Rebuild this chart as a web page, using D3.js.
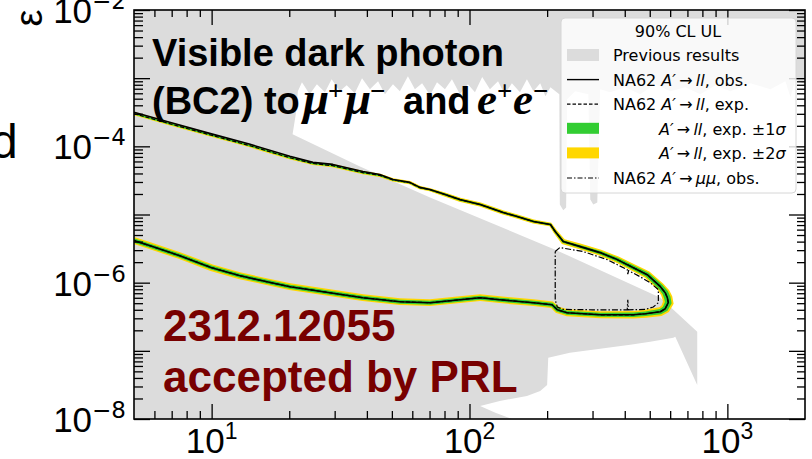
<!DOCTYPE html>
<html><head><meta charset="utf-8">
<script src="https://cdn.jsdelivr.net/npm/d3@7"></script>
<style>body{margin:0;background:#fff;} svg{display:block;}</style>
</head><body><svg id="c" width="812" height="459"></svg>
<script>
// ---------------- data ----------------
const xDomain = [5, 2000];          // A' mass [MeV]
const yDomain = [1e-8, 1e-2];       // epsilon
const xLabelTicks = [10, 100, 1000];
const yLabelTicks = [1e-8, 1e-6, 1e-4, 1e-2];

// Previous results (grey excluded region), closed polygon
const prevMass = [5,2000,2000,1836,1756,1679,1469,1228,1027,898,785,687,601,525,459,402,351,321,313,302,294,289,257,239,237,231,224,223,206,197,188,177,167,157,146,137,129,120,112,105,98.6,91.8,85.5,80.3,74.8,70.3,65.5,61.4,57.7,53.7,50.5,47.0,44.2,41.1,38.3,35.9,33.4,31.4,29.2,27.5,25.6,24.0,22.4,21.6,21.2,20.6,37.6,70.3,215,550,764,764,628,617,502,420,321,245,202,200,188,167,131,110,126,146,5];
const prevEps = [1e-2,1e-2,8.16e-4,9.66e-4,5.26e-4,9.03e-4,6.89e-4,8.43e-4,6.44e-4,7.88e-4,5.82e-4,7.38e-4,6.44e-4,8.16e-4,5.82e-4,7.38e-4,6.22e-4,6.89e-4,1.5e-5,1.4e-5,1.66e-5,5.82e-4,6.44e-4,4.91e-4,1.27e-5,1.15e-5,1.4e-5,5.82e-4,7.38e-4,5.43e-4,8.43e-4,6.44e-4,9.66e-4,6.22e-4,8.43e-4,5.82e-4,9.03e-4,6.89e-4,1.04e-3,6.22e-4,8.16e-4,5.82e-4,9.66e-4,6.89e-4,8.73e-4,5.62e-4,8.43e-4,6.89e-4,1.07e-3,6.44e-4,8.16e-4,5.82e-4,9.03e-4,6.89e-4,1.0e-3,6.01e-4,7.88e-4,6.44e-4,9.66e-4,6.22e-4,8.16e-4,5.82e-4,8.73e-4,6.44e-4,2.96e-4,1.5e-4,5.08e-5,1.78e-5,3.05e-6,6.02e-7,1.9e-7,3.16e-8,1.61e-7,1.55e-7,1.36e-7,1.23e-7,1.07e-7,9.35e-8,7.9e-8,3.16e-8,2.58e-8,2.18e-8,1.84e-8,1.55e-8,1.23e-8,1e-8,1e-8];

// NA62 A'->ll : upper branch (left -> tip)
const upperMass = [5.0,6.87,9.82,14.1,20.1,24.7,29.5,34.4,38.6,44.9,50.5,58.7,64.2,70.3,80.4,91.8,110,135,153,177,206,215,231,269,321,374,432,489,550,574,585];
const upperObs  = [3.16e-4,2.25e-4,1.55e-4,1.07e-4,7.13e-5,5.82e-5,5.43e-5,4.74e-5,4.28e-5,3.87e-5,3.27e-5,2.96e-5,2.50e-5,2.33e-5,1.97e-5,1.66e-5,1.40e-5,1.07e-5,9.35e-6,7.89e-6,7.13e-6,5.62e-6,4.01e-6,3.38e-6,2.76e-6,2.18e-6,1.66e-6,1.31e-6,8.73e-7,7.13e-7,6.02e-7];
const upperExp  = [3.02e-4,2.15e-4,1.48e-4,1.02e-4,6.8e-5,5.6e-5,5.2e-5,4.55e-5,4.12e-5,3.75e-5,3.22e-5,2.93e-5,2.48e-5,2.31e-5,1.96e-5,1.65e-5,1.40e-5,1.07e-5,9.35e-6,7.89e-6,7.13e-6,5.62e-6,4.01e-6,3.38e-6,2.76e-6,2.18e-6,1.66e-6,1.31e-6,8.73e-7,7.13e-7,6.02e-7];
// band half widths, in decades of epsilon
const upperSig1 = [0.012,0.012,0.012,0.012,0.012,0.012,0.012,0.012,0.012,0.012,0.012,0.012,0.012,0.012,0.015,0.015,0.015,0.015,0.015,0.015,0.015,0.015,0.02,0.022,0.025,0.028,0.03,0.035,0.04,0.045,0.048];
const upperSig2 = [0.024,0.024,0.024,0.024,0.024,0.024,0.024,0.024,0.024,0.024,0.024,0.024,0.024,0.024,0.03,0.03,0.03,0.03,0.03,0.03,0.03,0.03,0.04,0.042,0.045,0.048,0.05,0.055,0.06,0.07,0.075];
// tip
const tipMass = 590, tipEps = 5.08e-7, tipSig1 = 0.05, tipSig2 = 0.08;
// lower branch (tip -> left)
const lowerMass = [574,550,481,432,321,239,219,209,177,131,110,91.8,70.3,53.7,38.6,28.7,20.1,16.4,12.8,10,7.52,5.74,5.0];
const lowerExp  = [4.15e-7,3.75e-7,3.50e-7,3.38e-7,3.38e-7,3.62e-7,4.01e-7,4.75e-7,5.08e-7,5.62e-7,6.02e-7,5.62e-7,5.08e-7,5.26e-7,6.02e-7,7.13e-7,8.73e-7,1.03e-6,1.27e-6,1.66e-6,2.49e-6,3.50e-6,4.15e-6];
const lowerObs  = [4.15e-7,3.75e-7,3.50e-7,3.38e-7,3.38e-7,3.62e-7,4.01e-7,4.75e-7,5.08e-7,5.62e-7,6.02e-7,5.62e-7,5.08e-7,5.26e-7,6.02e-7,7.13e-7,8.73e-7,1.03e-6,1.27e-6,1.66e-6,2.49e-6,3.50e-6,4.15e-6];
const lowerSig1 = [0.045,0.04,0.035,0.032,0.03,0.03,0.03,0.03,0.03,0.03,0.03,0.03,0.03,0.03,0.03,0.03,0.03,0.03,0.03,0.03,0.03,0.03,0.03];
const lowerSig2 = [0.072,0.066,0.058,0.055,0.052,0.05,0.05,0.05,0.05,0.05,0.05,0.05,0.05,0.05,0.05,0.05,0.05,0.05,0.05,0.05,0.05,0.05,0.05];

// NA62 A'->mumu observed contour (closed)
const muMass = [215,224,276,342,409,411,414,459,502,540,540,516,481,413,411,409,300,231,219,215,215];
const muEps  = [2.86e-6,3.27e-6,2.86e-6,2.18e-6,1.55e-6,1.33e-6,1.5e-6,1.22e-6,1.0e-6,7.9e-7,5.08e-7,4.4e-7,4.05e-7,4.0e-7,5.6e-7,4.0e-7,4.0e-7,4.05e-7,4.4e-7,5.6e-7,2.86e-6];

const legendTitle = "90% CL UL";
const legendLabels = [
  "Previous results",
  "NA62 *A′*\u2009→\u2009*ll*, obs.",
  "NA62 *A′*\u2009→\u2009*ll*, exp.",
  "*A′*\u2009→\u2009*ll*, exp. ±1*σ*",
  "*A′*\u2009→\u2009*ll*, exp. ±2*σ*",
  "NA62 *A′*\u2009→\u2009*μμ*, obs."
];

// ---------------- drawing ----------------
const svg = d3.select("#c");
const L = 134, R = 805, T = 10, B = 419;
const x = d3.scaleLog().domain(xDomain).range([L, R]);
const y = d3.scaleLog().domain(yDomain).range([B, T]);
const GREY = "#dcdcdc", GREEN = "#32cd32", YELLOW = "#ffd700";
const SANS = "'Liberation Sans', Arial, Helvetica, sans-serif";
const SERIF = "'Liberation Serif', 'Times New Roman', serif";
const DEJAVU = "'DejaVu Sans', sans-serif";

svg.append("defs").append("clipPath").attr("id", "clip")
  .append("rect").attr("x", L).attr("y", T).attr("width", R - L).attr("height", B - T);
const plot = svg.append("g").attr("clip-path", "url(#clip)");

const lineGen = d3.line().x(d => x(d[0])).y(d => y(d[1]));

// grey previous results
plot.append("path").attr("d", lineGen(d3.zip(prevMass, prevEps)) + "Z").attr("fill", GREY);

// NA62 ll contour loop
const loopM = upperMass.concat([tipMass], lowerMass);
const loopE = upperExp.concat([tipEps], lowerExp);
const loopO = upperObs.concat([tipEps], lowerObs);
const loopS1 = upperSig1.concat([tipSig1], lowerSig1);
const loopS2 = upperSig2.concat([tipSig2], lowerSig2);
const pxPerDec = Math.abs(y(1e-6) - y(1e-5));
function offsetPts(ws, sign) {
  const P = loopM.map((m, i) => [x(m), y(loopE[i])]);
  return P.map((p, i) => {
    const a = P[Math.max(0, i - 1)], b = P[Math.min(P.length - 1, i + 1)];
    const tx = b[0] - a[0], ty = b[1] - a[1], l = Math.hypot(tx, ty) || 1;
    const d = sign * ws[i] * pxPerDec;
    return [p[0] - ty / l * d, p[1] + tx / l * d];
  });
}
function bandPath(ws) {
  const o = offsetPts(ws, 1), inn = offsetPts(ws, -1).reverse();
  return "M" + o.join("L") + "L" + inn.join("L") + "Z";
}
plot.append("path").attr("d", bandPath(loopS2)).attr("fill", YELLOW);
plot.append("path").attr("d", bandPath(loopS1)).attr("fill", GREEN);
plot.append("path").attr("d", lineGen(d3.zip(loopM, loopE))).attr("fill", "none")
  .attr("stroke", "#000").attr("stroke-width", 1.2).attr("stroke-dasharray", "4,2");
plot.append("path").attr("d", lineGen(d3.zip(loopM, loopO))).attr("fill", "none")
  .attr("stroke", "#000").attr("stroke-width", 1.6).attr("stroke-linejoin", "round");
// mumu
plot.append("path").attr("d", lineGen(d3.zip(muMass, muEps))).attr("fill", "none")
  .attr("stroke", "#000").attr("stroke-width", 1.2).attr("stroke-dasharray", "6,2,1.5,2");

// ---- text overlays ----
function txt(s, xx, yy, font, size, opts = {}) {
  return svg.append("text").attr("x", xx).attr("y", yy)
    .style("font-family", font).style("font-size", size + "px")
    .style("font-weight", opts.bold ? "bold" : "normal")
    .style("font-style", opts.italic ? "italic" : "normal")
    .attr("fill", opts.fill || "#000").text(s);
}
txt("Visible dark photon", 152, 66, SANS, 38, { bold: true });
txt("(BC2) to", 152, 114, SANS, 38, { bold: true });
txt("μ", 303, 114, SERIF, 47, { bold: true, italic: true });
txt("+", 328, 100, SERIF, 27, { bold: true });
txt("μ", 345, 114, SERIF, 47, { bold: true, italic: true });
txt("−", 370, 100, SERIF, 27, { bold: true });
txt("and", 403, 114, SANS, 38, { bold: true });
txt("e", 477, 114, SERIF, 45, { bold: true, italic: true });
txt("+", 497, 100, SERIF, 27, { bold: true });
txt("e", 513, 114, SERIF, 45, { bold: true, italic: true });
txt("−", 533, 100, SERIF, 27, { bold: true });

txt("2312.12055", 163, 341, SANS, 44, { bold: true, fill: "#780000" });
txt("accepted by PRL", 163, 392, SANS, 44, { bold: true, fill: "#780000" });

// ---- axes ----
const isMajor = v => Math.abs(Math.log10(v) - Math.round(Math.log10(v))) < 1e-6;
const xt = x.ticks().filter(v => v > xDomain[0] * 1.001 && v < xDomain[1] * 0.999);
const yt = y.ticks();
const xMaj = xt.filter(isMajor), xMin = xt.filter(v => !isMajor(v));
const yMaj = yt.filter(isMajor), yMin = yt.filter(v => !isMajor(v));
function axis(gen, vals, size, tr) {
  const g = svg.append("g").attr("transform", tr)
    .call(gen.tickValues(vals).tickSize(-size).tickFormat(""));
  g.select(".domain").remove();
  g.selectAll("line").attr("stroke", "#000").attr("stroke-width", 1.3);
}
axis(d3.axisBottom(x), xMaj, 15, `translate(0,${B})`);
axis(d3.axisBottom(x), xMin, 8, `translate(0,${B})`);
axis(d3.axisTop(x), xMaj, 15, `translate(0,${T})`);
axis(d3.axisTop(x), xMin, 7, `translate(0,${T})`);
axis(d3.axisLeft(y), yMaj, 16, `translate(${L},0)`);
axis(d3.axisLeft(y), yMin, 9, `translate(${L},0)`);
axis(d3.axisRight(y), yMaj, 16, `translate(${R},0)`);
axis(d3.axisRight(y), yMin, 8, `translate(${R},0)`);
svg.append("rect").attr("x", L).attr("y", T).attr("width", R - L).attr("height", B - T)
  .attr("fill", "none").attr("stroke", "#000").attr("stroke-width", 1.6);

// tick labels
xLabelTicks.forEach(v => {
  const t = svg.append("text").attr("x", x(v)).attr("y", 453).attr("text-anchor", "middle")
    .style("font-family", SANS).style("font-size", "35px");
  t.append("tspan").text("10");
  t.append("tspan").attr("dy", -14).style("font-size", "23px").text(String(Math.round(Math.log10(v))));
});
yLabelTicks.forEach(v => {
  const t = svg.append("text").attr("x", 126).attr("y", y(v) + 13).attr("text-anchor", "end")
    .style("font-family", SANS).style("font-size", "35px");
  t.append("tspan").text("10");
  t.append("tspan").attr("dy", -14).style("font-family", DEJAVU).style("font-size", "23px")
    .text("−" + String(Math.abs(Math.round(Math.log10(v)))));
});
// axis label fragments
svg.append("text").attr("transform", "translate(42,18) rotate(-90)").attr("text-anchor", "middle")
  .style("font-family", SANS).style("font-size", "38px").text("ε");
svg.append("text").attr("x", -9).attr("y", 158).style("font-family", SANS).style("font-size", "48px").text("d");

// ---- legend ----
const lg = svg.append("g");
lg.append("rect").attr("x", 561).attr("y", 18).attr("width", 235).attr("height", 175).attr("rx", 4)
  .attr("fill", "#fff").attr("fill-opacity", 0.82).attr("stroke", "#d6d6d6").attr("stroke-width", 1);
lg.append("text").attr("x", 678).attr("y", 37).attr("text-anchor", "middle")
  .style("font-family", DEJAVU).style("font-size", "16px").text(legendTitle);
const rowY = i => 55 + i * 24.6;
const handles = [
  g => g.append("rect").attr("x", 567).attr("y", -6).attr("width", 32).attr("height", 12).attr("fill", GREY),
  g => g.append("line").attr("x1", 567).attr("x2", 599).attr("stroke", "#000").attr("stroke-width", 1.4),
  g => g.append("line").attr("x1", 567).attr("x2", 599).attr("stroke", "#000").attr("stroke-width", 1.2).attr("stroke-dasharray", "3.5,2"),
  g => g.append("rect").attr("x", 567).attr("y", -6).attr("width", 32).attr("height", 11).attr("fill", GREEN),
  g => g.append("rect").attr("x", 567).attr("y", -6).attr("width", 32).attr("height", 11).attr("fill", YELLOW),
  g => g.append("line").attr("x1", 567).attr("x2", 599).attr("stroke", "#000").attr("stroke-width", 1.2).attr("stroke-dasharray", "5,2,1.5,2")
];
const textX = [613, 613, 613, 659, 659, 613];
legendLabels.forEach((lab, i) => {
  const g = lg.append("g").attr("transform", `translate(0,${rowY(i)})`);
  handles[i](g);
  const t = g.append("text").attr("x", textX[i]).attr("y", 6)
    .style("font-family", DEJAVU).style("font-size", "16px");
  lab.split("*").forEach((part, k) => {
    if (part.length) t.append("tspan").style("font-style", k % 2 ? "italic" : "normal").text(part);
  });
});
</script>
</body></html>
